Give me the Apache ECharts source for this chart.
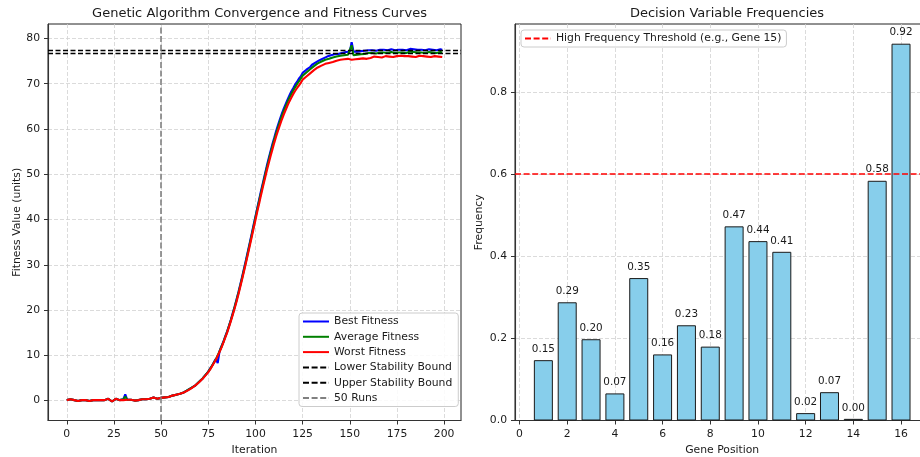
<!DOCTYPE html>
<html>
<head>
<meta charset="utf-8">
<script src="https://cdn.jsdelivr.net/npm/echarts@6/dist/echarts.min.js"></script>
<style>html,body{margin:0;padding:0;background:#fff}#c{width:920px;height:457px}</style>
</head>
<body>
<div id="c"></div>
<script>
const bestFitness = [
0.1,0.4,0.3,0.4,0.1,-0.3,-0.1,0.0,0.1,-0.1,
0.1,0.0,-0.1,0.0,0.1,0.0,0.1,0.2,0.1,0.0,
0.1,-0.1,0.4,0.3,-0.2,0.2,0.4,0.0,0.1,-0.1,
0.3,1.4,0.2,0.0,0.2,0.1,0.0,0.2,0.1,0.2,
0.3,0.1,0.3,0.2,0.4,0.3,0.7,0.8,0.4,0.5,
0.6,0.8,0.7,0.9,0.8,1.0,1.1,0.7,1.3,1.5,
1.5,1.8,1.8,2.1,2.3,2.4,2.8,3.0,3.3,3.7,
4.1,4.4,4.9,5.3,5.9,6.4,7.1,7.7,8.5,9.2,
8.3,11.0,12.0,13.0,14.2,15.3,16.6,17.9,19.4,20.8,
22.4,24.0,25.7,27.5,29.3,31.1,33.0,34.9,36.8,38.8,
40.7,42.6,44.5,46.4,48.2,50.0,51.8,53.5,55.1,56.7,
58.1,59.6,60.9,62.2,63.4,64.5,65.5,66.5,67.4,68.3,
69.0,69.8,70.4,71.1,71.6,72.4,72.5,73.1,73.4,73.7,
74.2,74.5,74.7,75.1,75.2,75.5,75.6,75.9,76.0,76.1,
76.3,76.3,76.5,76.6,76.6,76.8,76.8,76.9,77.0,77.0,
77.1,79.2,77.1,77.2,77.1,77.3,77.2,77.4,77.3,77.3,
77.4,77.2,77.4,77.5,77.3,77.4,77.5,77.3,77.5,77.6,
77.4,77.5,77.6,77.5,77.4,77.6,77.5,77.7,77.5,77.6,
77.4,77.6,77.7,77.5,77.6,77.4,77.5,77.7,77.5,77.6,
77.4,77.5,77.6,77.4,77.5,77.6,77.4,77.5,77.6,77.5
];
const averageFitness = [
0.1,0.4,0.3,0.4,0.1,-0.3,-0.1,0.0,0.1,-0.1,
0.1,0.0,-0.1,0.0,0.1,0.0,0.1,0.2,0.1,0.0,
0.1,-0.1,0.4,0.3,-0.2,0.2,0.4,0.0,0.1,-0.1,
0.3,0.9,0.2,0.0,0.2,0.1,0.0,0.2,0.1,0.2,
0.3,0.1,0.3,0.2,0.4,0.3,0.7,0.8,0.4,0.5,
0.6,0.8,0.7,0.9,0.8,1.0,1.1,0.7,1.3,1.5,
1.5,1.8,1.8,2.1,2.3,2.4,2.8,3.0,3.3,3.7,
4.1,4.4,4.9,5.3,5.9,6.4,7.0,7.7,8.4,9.1,
9.0,10.9,11.9,12.9,14.1,15.2,16.5,17.8,19.2,20.7,
22.2,23.8,25.5,27.2,29.0,30.8,32.7,34.6,36.5,38.4,
40.4,42.3,44.2,46.0,47.8,49.6,51.4,53.0,54.7,56.2,
57.7,59.1,60.4,61.7,62.9,64.0,65.0,66.0,66.9,67.7,
68.5,69.2,69.9,70.5,71.1,71.8,72.0,72.5,72.8,73.2,
73.6,73.9,74.1,74.5,74.6,74.9,75.0,75.3,75.4,75.5,
75.7,75.8,75.9,76.0,76.0,76.2,76.2,76.3,76.4,76.4,
76.5,78.5,76.3,76.6,76.4,76.7,76.5,76.8,76.6,76.7,
76.8,76.6,76.8,76.9,76.7,76.8,76.9,76.7,76.9,77.0,
76.8,76.9,77.0,76.9,76.8,77.0,76.9,77.1,76.9,77.0,
76.8,77.0,77.1,76.9,77.0,76.8,76.9,77.1,76.9,77.0,
76.8,76.9,77.0,76.8,76.9,77.0,76.8,76.9,77.0,76.9
];
const worstFitness = [
0.1,0.4,0.3,0.4,0.1,-0.3,-0.1,0.0,0.1,-0.1,
0.1,0.0,-0.1,0.0,0.1,0.0,0.1,0.2,0.1,0.0,
0.1,-0.1,0.4,0.3,-0.2,0.2,0.4,0.0,0.1,-0.1,
0.1,0.3,0.2,0.0,0.2,0.1,0.0,0.2,0.1,0.2,
0.3,0.1,0.3,0.2,0.4,0.3,0.7,0.8,0.4,0.5,
0.6,0.8,0.7,0.9,0.8,1.0,1.1,0.7,1.3,1.5,
1.5,1.7,1.8,2.0,2.2,2.4,2.7,2.9,3.3,3.6,
4.0,4.3,4.8,5.2,5.8,6.3,6.9,7.6,8.3,9.0,
9.9,10.8,11.7,12.8,13.9,15.0,16.3,17.6,19.0,20.4,
21.9,23.5,25.2,26.9,28.7,30.5,32.3,34.2,36.1,38.0,
39.9,41.8,43.6,45.5,47.3,49.0,50.8,52.4,54.0,55.5,
57.0,58.4,59.7,60.9,62.1,63.2,64.2,65.2,66.1,66.9,
67.7,68.4,69.0,69.6,70.2,70.9,71.1,71.6,72.0,72.3,
72.7,73.0,73.2,73.6,73.7,74.0,74.1,74.4,74.5,74.6,
74.8,74.8,75.0,75.1,75.1,75.3,75.3,75.4,75.5,75.5,
75.6,75.3,75.6,75.4,75.7,75.5,75.9,75.6,75.8,75.5,
75.9,75.7,75.8,76.0,75.7,75.9,76.0,75.8,76.0,76.1,
75.9,76.0,76.1,75.9,76.0,76.1,76.0,76.2,76.0,76.1,
75.9,76.1,76.2,76.0,76.1,75.9,76.0,76.2,76.0,76.1,
75.9,76.0,76.1,75.9,76.0,76.1,75.9,76.0,76.0,75.9
];
const lowerStabilityBound = 76.8;
const upperStabilityBound = 77.45;
const runsMarker = 50;
const iterationTicks = [0,25,50,75,100,125,150,175,200];
const fitnessTicks = [0,10,20,30,40,50,60,70,80];

const genePositions = [1,2,3,4,5,6,7,8,9,10,11,12,13,14,15,16];
const geneFrequencies = [0.147,0.288,0.198,0.066,0.347,0.161,0.232,0.180,0.473,0.437,0.411,0.018,0.069,0.004,0.584,0.918];
const highFrequencyThreshold = 0.6;
const geneTicks = [0,2,4,6,8,10,12,14,16];
const frequencyTicks = [0,0.2,0.4,0.6,0.8];

const FONT = 'DejaVu Sans';
const TXT = '#1a1a1a';
const gridLine = {show:true, lineStyle:{color:'#d2d2d2', type:[4,2], width:0.8}};
const axLine = {show:true, onZero:false, lineStyle:{color:'#333', width:1.1}};
const axTick = (vals) => ({show:true, length:4, lineStyle:{color:'#333', width:1}, customValues: vals});
const axLab = (vals, fmt, margin) => ({customValues: vals, fontFamily:FONT, fontSize:10.8, color:TXT, margin: margin, formatter: fmt});

const chart = echarts.init(document.getElementById('c'), null, {renderer:'canvas'});
const toXY = (arr) => arr.map((v,i) => [i, v]);

const legendBase = {
  orient:'vertical', itemWidth:26,
  backgroundColor:'rgba(255,255,255,0.85)', borderColor:'#cccccc', borderWidth:1, borderRadius:3,
  textStyle:{fontFamily:FONT, fontSize:10.8, color:TXT},
  itemStyle:{opacity:0, borderWidth:0}
};
const boundStyle = {color:'#000', width:1.3, type:[5,2.5]};

chart.setOption({
  animation:false,
  backgroundColor:'#fff',
  textStyle:{fontFamily:FONT},
  title:[
    {text:'Genetic Algorithm Convergence and Fitness Curves', left:254.5, top:2, textAlign:'center',
     textStyle:{fontFamily:FONT, fontSize:13, fontWeight:'normal', color:TXT}},
    {text:'Decision Variable Frequencies', left:722, top:2, textAlign:'center',
     textStyle:{fontFamily:FONT, fontSize:13, fontWeight:'normal', color:TXT}}
  ],
  grid:[
    {left:48, right:459, top:24, bottom:36.5, outerBoundsMode:'none', containLabel:false, show:true, borderColor:'#222', borderWidth:1, backgroundColor:'transparent'},
    {left:515, right:-9.4, top:24, bottom:36.5, outerBoundsMode:'none', containLabel:false, show:true, borderColor:'#222', borderWidth:1, backgroundColor:'transparent'}
  ],
  legend:[
    Object.assign({}, legendBase, {left:299, top:313, padding:[3,6,3,3], itemHeight:12, itemGap:4.3,
     data:['Best Fitness','Average Fitness','Worst Fitness','Lower Stability Bound','Upper Stability Bound','50 Runs']}),
    Object.assign({}, legendBase, {left:521, top:30, padding:[3,5,3,3], itemHeight:13,
     data:['High Frequency Threshold (e.g., Gene 15)']})
  ],
  xAxis:[
    {type:'value', gridIndex:0, min:-9.95, max:208.95, axisLine:axLine, axisTick:axTick(iterationTicks),
     axisLabel:axLab(iterationTicks, v=>String(v), 8), splitLine:gridLine,
     name:'Iteration', nameLocation:'middle', nameGap:20, nameTextStyle:{fontFamily:FONT, fontSize:10.8, color:TXT}},
    {type:'value', gridIndex:1, min:-0.19, max:17.19, axisLine:axLine, axisTick:axTick(geneTicks),
     axisLabel:axLab(geneTicks, v=>String(v), 8), splitLine:gridLine,
     name:'Gene Position', nameLocation:'middle', nameGap:20, nameTextStyle:{fontFamily:FONT, fontSize:10.8, color:TXT}}
  ],
  yAxis:[
    {type:'value', gridIndex:0, min:-4.4, max:83.2, axisLine:axLine, axisTick:axTick(fitnessTicks),
     axisLabel:axLab(fitnessTicks, v=>String(v), 8), splitLine:gridLine,
     name:'Fitness Value (units)', nameLocation:'middle', nameGap:24, nameTextStyle:{fontFamily:FONT, fontSize:10.8, color:TXT}},
    {type:'value', gridIndex:1, min:0, max:0.966, axisLine:axLine, axisTick:axTick(frequencyTicks),
     axisLabel:axLab(frequencyTicks, v=>v.toFixed(1), 8), splitLine:gridLine,
     name:'Frequency', nameLocation:'middle', nameGap:30, nameTextStyle:{fontFamily:FONT, fontSize:10.8, color:TXT}}
  ],
  series:[
    {name:'Best Fitness', type:'line', xAxisIndex:0, yAxisIndex:0, data:toXY(bestFitness), showSymbol:false, symbol:'none',
     color:'#0000ff', lineStyle:{color:'#0000ff', width:2.1}, z:2},
    {name:'Average Fitness', type:'line', xAxisIndex:0, yAxisIndex:0, data:toXY(averageFitness), showSymbol:false, symbol:'none',
     color:'#008000', lineStyle:{color:'#008000', width:2.1}, z:3},
    {name:'Worst Fitness', type:'line', xAxisIndex:0, yAxisIndex:0, data:toXY(worstFitness), showSymbol:false, symbol:'none',
     color:'#ff0000', lineStyle:{color:'#ff0000', width:2.1}, z:4},
    {name:'Lower Stability Bound', type:'line', xAxisIndex:0, yAxisIndex:0, data:[], symbol:'none',
     color:'#000', lineStyle:{color:'#000', width:1.6, type:[6,2.6]},
     markLine:{silent:true, symbol:['none','none'], label:{show:false}, lineStyle:boundStyle,
       data:[{yAxis:lowerStabilityBound}]}, z:5},
    {name:'Upper Stability Bound', type:'line', xAxisIndex:0, yAxisIndex:0, data:[], symbol:'none',
     color:'#000', lineStyle:{color:'#000', width:1.6, type:[6,2.6]},
     markLine:{silent:true, symbol:['none','none'], label:{show:false}, lineStyle:boundStyle,
       data:[{yAxis:upperStabilityBound}]}, z:5},
    {name:'50 Runs', type:'line', xAxisIndex:0, yAxisIndex:0, data:[], symbol:'none',
     color:'#808080', lineStyle:{color:'#808080', width:1.6, type:[6,2.6]},
     markLine:{silent:true, symbol:['none','none'], label:{show:false}, lineStyle:{color:'#808080', width:1.6, type:[6,2.6]},
       data:[{xAxis:runsMarker}]}, z:5},
    {name:'Gene Frequency', type:'bar', xAxisIndex:1, yAxisIndex:1, barWidth:19,
     data:genePositions.map((p,i)=>[p, geneFrequencies[i]]),
     itemStyle:{color:'#87ceeb', borderColor:'#1a1a1a', borderWidth:1},
     label:{show:true, position:'top', distance:6, fontFamily:FONT, fontSize:10.4, color:TXT,
       formatter:(p)=>p.value[1].toFixed(2)}, z:2},
    {name:'High Frequency Threshold (e.g., Gene 15)', type:'line', xAxisIndex:1, yAxisIndex:1, data:[], symbol:'none',
     color:'#ff0000', lineStyle:{color:'#ff0000', width:1.6, type:[6,2.6]},
     markLine:{silent:true, symbol:['none','none'], label:{show:false}, lineStyle:{color:'#ff0000', width:1.6, type:[6,2.6]},
       data:[{yAxis:highFrequencyThreshold}]}, z:5}
  ]
});
</script>
</body>
</html>
